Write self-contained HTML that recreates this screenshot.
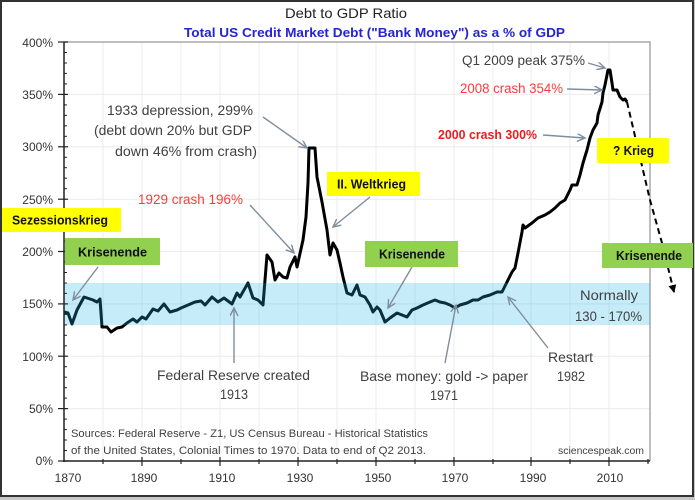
<!DOCTYPE html>
<html><head><meta charset="utf-8"><style>
html,body{margin:0;padding:0;background:#c8c8c8;}
svg{display:block;}
text{font-family:"Liberation Sans",Arial,sans-serif;}
</style></head><body>
<svg width="695" height="500" viewBox="0 0 695 500" xmlns="http://www.w3.org/2000/svg">
<defs>
<marker id="ah" markerWidth="10" markerHeight="10" refX="8" refY="4" orient="auto" markerUnits="userSpaceOnUse">
<path d="M0,0 L8,4 L0,8" fill="none" stroke="#7f8e9c" stroke-width="1.4"/>
</marker>
<marker id="bh" markerWidth="10" markerHeight="10" refX="7" refY="4" orient="auto" markerUnits="userSpaceOnUse">
<path d="M0,0 L8,4 L0,8 Z" fill="#000"/>
</marker>
</defs>
<rect x="0" y="0" width="695" height="500" fill="#c8c8c8"/>
<rect x="1" y="1" width="692" height="495" fill="#fff" stroke="#333" stroke-width="2"/>

<!-- gridlines -->
<g stroke="#ececec" stroke-width="1">
<line x1="103" y1="42" x2="103" y2="461"/><line x1="142" y1="42" x2="142" y2="461"/>
<line x1="181" y1="42" x2="181" y2="461"/><line x1="220" y1="42" x2="220" y2="461"/>
<line x1="259" y1="42" x2="259" y2="461"/><line x1="298" y1="42" x2="298" y2="461"/>
<line x1="337" y1="42" x2="337" y2="461"/><line x1="376" y1="42" x2="376" y2="461"/>
<line x1="415" y1="42" x2="415" y2="461"/><line x1="454" y1="42" x2="454" y2="461"/>
<line x1="493" y1="42" x2="493" y2="461"/><line x1="531" y1="42" x2="531" y2="461"/>
<line x1="570" y1="42" x2="570" y2="461"/><line x1="609" y1="42" x2="609" y2="461"/>
<line x1="64" y1="94.4" x2="650" y2="94.4"/><line x1="64" y1="146.8" x2="650" y2="146.8"/>
<line x1="64" y1="199.2" x2="650" y2="199.2"/><line x1="64" y1="251.5" x2="650" y2="251.5"/>
<line x1="64" y1="303.9" x2="650" y2="303.9"/><line x1="64" y1="356.2" x2="650" y2="356.2"/>
<line x1="64" y1="408.6" x2="650" y2="408.6"/>
</g>
<!-- plot border top/right -->
<polyline points="64,42 650,42 650,461" fill="none" stroke="#a8a8a8" stroke-width="1.5"/>

<!-- data line -->
<polyline fill="none" stroke="#000" stroke-width="3" stroke-linejoin="round" points="64,312 68,313 72,324 77,310 84,297 93,300 97,302 100,299 102,327 107,327 111,332 117,328 122,327 127,323 133,319 137,322 142,317 146,319 153,309 158,311 164,304 170,312 177,310 181,308 188,305 195,302 201,301 205,305 212,297 218,302 224,298 232,304 237,293 240,297 248,283 253,298 258,300 263,305 267,255 272,262 275,280 279,273 283,277 287,278 290,267 295,257 297,267 299,258 303,240 306,217 308,183 309,148 315,148 317,177 322,202 327,230 330,255 333,243 337,250 340,263 343,277 347,293 352,295 357,285 360,295 365,297 370,305 373,312 377,307 380,310 385,322 390,318 397,313 402,315 407,317 412,310 417,308 423,305 430,302 435,300 440,302 445,303 450,305 455,308 460,305 467,303 473,300 478,300 483,297 490,295 497,292 502,292 507,282 512,272 515,268 518,253 522,232 523,225 525,228 532,223 538,218 545,215 550,212 555,208 560,203 565,200 570,190 572,185 577,185 580,175 583,163 587,150 590,138 593,130 597,123 598,115 602,102 603,93 605,85 607,75 608,70 610,70 612,83 613,90 617,90 620,97 623,100 625,99 627,102"/>
<!-- dashed projection -->
<polyline fill="none" stroke="#000" stroke-width="2" stroke-dasharray="6,4" points="627,102 650,200 662,243 674,292" marker-end="url(#bh)"/>

<!-- normal band -->
<rect x="64" y="283" width="586" height="42" fill="rgb(36,180,236)" fill-opacity="0.26"/>

<!-- axes -->
<line x1="64" y1="42" x2="64" y2="462" stroke="#222" stroke-width="1.5"/>
<line x1="63" y1="461" x2="650" y2="461" stroke="#222" stroke-width="1.5"/>
<g stroke="#222" stroke-width="1.2">
<line x1="58" y1="42" x2="68" y2="42"/><line x1="58" y1="94.4" x2="68" y2="94.4"/>
<line x1="58" y1="146.8" x2="68" y2="146.8"/><line x1="58" y1="199.2" x2="68" y2="199.2"/>
<line x1="58" y1="251.5" x2="68" y2="251.5"/><line x1="58" y1="303.9" x2="68" y2="303.9"/>
<line x1="58" y1="356.2" x2="68" y2="356.2"/><line x1="58" y1="408.6" x2="68" y2="408.6"/>
<line x1="58" y1="461" x2="68" y2="461"/>
</g>
<g stroke="#222" stroke-width="1">
<line x1="64" y1="52.5" x2="67" y2="52.5"/><line x1="64" y1="63" x2="67" y2="63"/><line x1="64" y1="73.4" x2="67" y2="73.4"/><line x1="64" y1="83.9" x2="67" y2="83.9"/>
<line x1="64" y1="104.9" x2="67" y2="104.9"/><line x1="64" y1="115.4" x2="67" y2="115.4"/><line x1="64" y1="125.8" x2="67" y2="125.8"/><line x1="64" y1="136.3" x2="67" y2="136.3"/>
<line x1="64" y1="157.3" x2="67" y2="157.3"/><line x1="64" y1="167.7" x2="67" y2="167.7"/><line x1="64" y1="178.2" x2="67" y2="178.2"/><line x1="64" y1="188.7" x2="67" y2="188.7"/>
<line x1="64" y1="209.7" x2="67" y2="209.7"/><line x1="64" y1="220.1" x2="67" y2="220.1"/><line x1="64" y1="230.6" x2="67" y2="230.6"/><line x1="64" y1="241.1" x2="67" y2="241.1"/>
<line x1="64" y1="262" x2="67" y2="262"/><line x1="64" y1="272.5" x2="67" y2="272.5"/><line x1="64" y1="283" x2="67" y2="283"/><line x1="64" y1="293.4" x2="67" y2="293.4"/>
<line x1="64" y1="314.4" x2="67" y2="314.4"/><line x1="64" y1="324.9" x2="67" y2="324.9"/><line x1="64" y1="335.3" x2="67" y2="335.3"/><line x1="64" y1="345.8" x2="67" y2="345.8"/>
<line x1="64" y1="366.7" x2="67" y2="366.7"/><line x1="64" y1="377.2" x2="67" y2="377.2"/><line x1="64" y1="387.7" x2="67" y2="387.7"/><line x1="64" y1="398.1" x2="67" y2="398.1"/>
<line x1="64" y1="419.1" x2="67" y2="419.1"/><line x1="64" y1="429.6" x2="67" y2="429.6"/><line x1="64" y1="440" x2="67" y2="440"/><line x1="64" y1="450.5" x2="67" y2="450.5"/>
</g>
<g stroke="#222" stroke-width="1.2">
<line x1="142" y1="457" x2="142" y2="466"/><line x1="220" y1="457" x2="220" y2="466"/>
<line x1="298" y1="457" x2="298" y2="466"/><line x1="376" y1="457" x2="376" y2="466"/>
<line x1="454" y1="457" x2="454" y2="466"/><line x1="531" y1="457" x2="531" y2="466"/>
<line x1="609" y1="457" x2="609" y2="466"/>
<line x1="103" y1="459" x2="103" y2="464"/><line x1="181" y1="459" x2="181" y2="464"/>
<line x1="259" y1="459" x2="259" y2="464"/><line x1="337" y1="459" x2="337" y2="464"/>
<line x1="415" y1="459" x2="415" y2="464"/><line x1="493" y1="459" x2="493" y2="464"/>
<line x1="570" y1="459" x2="570" y2="464"/><line x1="648" y1="459" x2="648" y2="464"/>
</g>

<!-- axis labels -->
<g font-size="12" fill="#333" text-anchor="end">
<text x="53" y="47">400%</text><text x="53" y="99">350%</text>
<text x="53" y="151">300%</text><text x="53" y="204">250%</text>
<text x="53" y="256">200%</text><text x="53" y="308">150%</text>
<text x="53" y="361">100%</text><text x="53" y="413">50%</text>
<text x="53" y="465">0%</text>
</g>
<g font-size="12" fill="#333" text-anchor="middle">
<text x="68" y="482">1870</text><text x="144" y="482">1890</text>
<text x="222" y="482">1910</text><text x="300" y="482">1930</text>
<text x="378" y="482">1950</text><text x="455" y="482">1970</text>
<text x="533" y="482">1990</text><text x="610" y="482">2010</text>
</g>

<!-- titles -->
<text x="285" y="18" font-size="14" fill="#222" textLength="122" lengthAdjust="spacingAndGlyphs">Debt to GDP Ratio</text>
<text x="184" y="37" font-size="13" font-weight="bold" fill="#2424d4" textLength="381" lengthAdjust="spacingAndGlyphs">Total US Credit Market Debt ("Bank Money") as a % of GDP</text>

<!-- arrows -->
<g stroke="#7f8e9c" stroke-width="1.4" fill="none" marker-end="url(#ah)">
<line x1="263" y1="117" x2="307" y2="148"/>
<line x1="250" y1="205" x2="294" y2="253"/>
<line x1="370" y1="197" x2="333" y2="227"/>
<line x1="98" y1="267" x2="73" y2="300"/>
<line x1="412" y1="267" x2="388" y2="308"/>
<line x1="234" y1="363" x2="234" y2="308"/>
<line x1="445" y1="363" x2="456" y2="305"/>
<line x1="548" y1="348" x2="508" y2="297"/>
<line x1="588" y1="63" x2="605" y2="68"/>
<line x1="567" y1="89" x2="602" y2="90"/>
<line x1="543" y1="135" x2="585" y2="138"/>
</g>

<!-- annotation text -->
<g font-size="13.5" fill="#404040">
<text x="107" y="115" textLength="146" lengthAdjust="spacingAndGlyphs">1933 depression, 299%</text>
<text x="94" y="135" textLength="158" lengthAdjust="spacingAndGlyphs">(debt down 20% but GDP</text>
<text x="115" y="156" textLength="142" lengthAdjust="spacingAndGlyphs">down 46% from crash)</text>
<text x="462" y="65" textLength="123" lengthAdjust="spacingAndGlyphs">Q1 2009 peak 375%</text>
<text x="580" y="300" textLength="58" lengthAdjust="spacingAndGlyphs">Normally</text>
<text x="575" y="321" textLength="67" lengthAdjust="spacingAndGlyphs">130 - 170%</text>
<text x="548" y="362" textLength="45" lengthAdjust="spacingAndGlyphs">Restart</text>
<text x="557" y="381" textLength="28" lengthAdjust="spacingAndGlyphs">1982</text>
<text x="360" y="381" textLength="168" lengthAdjust="spacingAndGlyphs">Base money: gold -&gt; paper</text>
<text x="430" y="400" textLength="28" lengthAdjust="spacingAndGlyphs">1971</text>
<text x="157" y="380" textLength="153" lengthAdjust="spacingAndGlyphs">Federal Reserve created</text>
<text x="220" y="399" textLength="28" lengthAdjust="spacingAndGlyphs">1913</text>
</g>
<g font-size="13.5" fill="#ff3a3a">
<text x="138" y="204" textLength="105" lengthAdjust="spacingAndGlyphs">1929 crash 196%</text>
<text x="460" y="93" textLength="103" lengthAdjust="spacingAndGlyphs">2008 crash 354%</text>
</g>
<text x="438" y="139" font-size="12.5" font-weight="bold" fill="#ee1c1c" textLength="99" lengthAdjust="spacingAndGlyphs">2000 crash 300%</text>

<g font-size="11" fill="#404040">
<text x="71" y="437" textLength="357" lengthAdjust="spacingAndGlyphs">Sources: Federal Reserve - Z1, US Census Bureau - Historical Statistics</text>
<text x="71" y="454" textLength="355" lengthAdjust="spacingAndGlyphs">of the United States, Colonial Times to 1970. Data to end of Q2 2013.</text>
</g>
<text x="558" y="454" font-size="10" fill="#404040" textLength="86" lengthAdjust="spacingAndGlyphs">sciencespeak.com</text>

<!-- boxes -->
<rect x="2" y="208" width="119" height="24" fill="#ffff00"/>
<text x="12" y="224.5" font-size="12.5" font-weight="bold" fill="#111" textLength="96" lengthAdjust="spacingAndGlyphs">Sezessionskrieg</text>
<rect x="327" y="172" width="93" height="24" fill="#ffff00"/>
<text x="337" y="188.5" font-size="12.5" font-weight="bold" fill="#111" textLength="69" lengthAdjust="spacingAndGlyphs">II. Weltkrieg</text>
<rect x="597" y="138" width="72" height="25" fill="#ffff00"/>
<text x="613" y="155" font-size="12.5" font-weight="bold" fill="#111" textLength="41" lengthAdjust="spacingAndGlyphs">? Krieg</text>

<rect x="65" y="238" width="95" height="27" fill="#92d050"/>
<text x="78" y="256.5" font-size="12.5" font-weight="bold" fill="#111" textLength="69" lengthAdjust="spacingAndGlyphs">Krisenende</text>
<rect x="365" y="241" width="93" height="26" fill="#92d050"/>
<text x="379" y="258.5" font-size="12.5" font-weight="bold" fill="#111" textLength="66" lengthAdjust="spacingAndGlyphs">Krisenende</text>
<rect x="602" y="243" width="91" height="25" fill="#92d050"/>
<text x="616" y="260" font-size="12.5" font-weight="bold" fill="#111" textLength="66" lengthAdjust="spacingAndGlyphs">Krisenende</text>
</svg>
</body></html>
